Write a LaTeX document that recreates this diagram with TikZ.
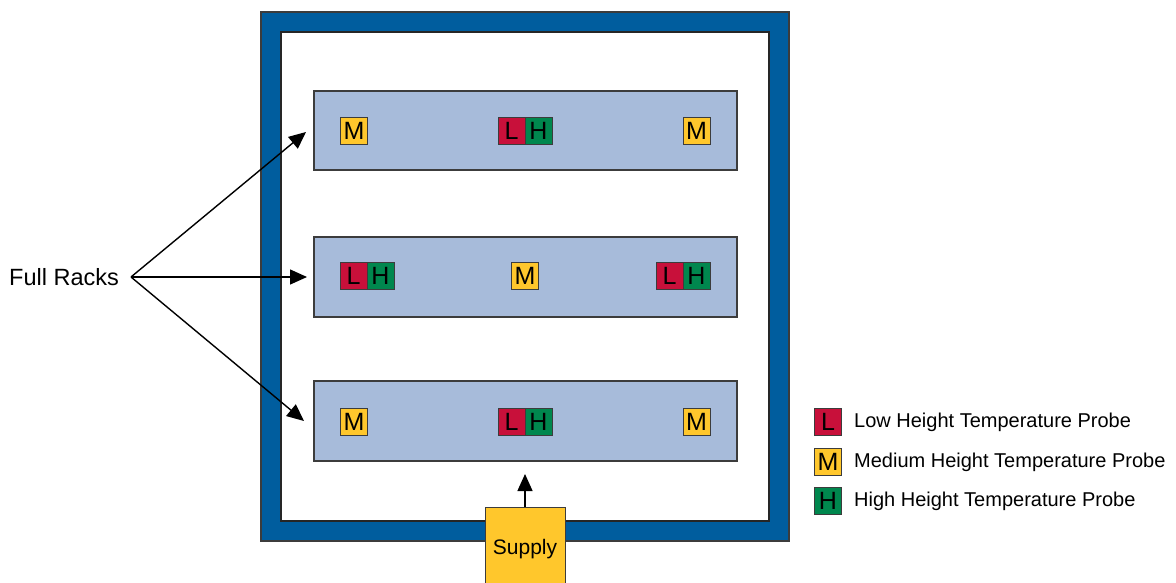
\documentclass[tikz,border=0pt]{standalone}
\usepackage{fontspec}
\setmainfont{Liberation Sans}
\usetikzlibrary{arrows.meta}
\definecolor{wallblue}{RGB}{0,93,158}
\definecolor{rackblue}{RGB}{167,187,218}
\definecolor{probered}{RGB}{200,16,58}
\definecolor{probeyel}{RGB}{255,199,44}
\definecolor{probegrn}{RGB}{0,135,78}
\definecolor{edgegray}{RGB}{60,60,60}
\tikzset{
  probe/.style={draw=edgegray, line width=1pt, minimum width=27pt, minimum height=27pt, inner sep=0pt,
    font=\fontsize{25}{25}\selectfont, text=black},
  pL/.style={probe, fill=probered},
  pM/.style={probe, fill=probeyel},
  pH/.style={probe, fill=probegrn},
  rack/.style={draw=edgegray, line width=1.2pt, fill=rackblue},
  arr/.style={line width=1.4pt, -{Triangle[length=17pt,width=15pt]}},
  legtext/.style={anchor=west, font=\fontsize{20}{20}\selectfont, inner sep=0pt},
}
\begin{document}
\begin{tikzpicture}[x=1pt,y=-1pt]
\useasboundingbox (0,0) rectangle (1176,583);
% walls
\path[fill=wallblue, draw=edgegray, line width=1.2pt] (261,12) rectangle (789,541);
\path[fill=white, draw=black!85, line width=1.5pt] (281,32) rectangle (769,521);
% racks
\path[rack] (314,91) rectangle (737,170);
\path[rack] (314,237) rectangle (737,317);
\path[rack] (314,381) rectangle (737,461);
% row 1
\node[pM] (m11) at (354,131) {M};
\node[pL] (l1) at (511.5,131) {L};
\node[pH] (h1) at (538.5,131) {H};
\node[pM] (m12) at (696.5,131) {M};
% row 2
\node[pL] (l21) at (353.5,276) {L};
\node[pH] (h21) at (380.5,276) {H};
\node[pM] (m2) at (525,276) {M};
\node[pL] (l22) at (669.5,276) {L};
\node[pH] (h22) at (696.5,276) {H};
% row 3
\node[pM] (m31) at (354,422) {M};
\node[pL] (l3) at (511.5,422) {L};
\node[pH] (h3) at (538.5,422) {H};
\node[pM] (m32) at (696.5,422) {M};
% supply
\path[fill=probeyel, draw=edgegray, line width=1pt] (485,586) -- (485,507) -- (565,507) -- (565,586);
\node[font=\fontsize{21}{21}\selectfont, inner sep=0pt] (supply) at (525,549) {Supply};
\coordinate (supTop) at (525,507);
\coordinate (supTip) at (525,474);
\draw[arr] (supTop) -- (supTip);
% full racks
\node[anchor=west, font=\fontsize{23.5}{23.5}\selectfont, inner sep=0pt] (fr) at (9,277) {Full Racks};
\coordinate (apex) at (131,277);
\coordinate (t1) at (306,132);
\coordinate (t2) at (307,277);
\coordinate (t3) at (304,421);
\draw[arr] (apex) -- (t1);
\draw[arr] (apex) -- (t2);
\draw[arr] (apex) -- (t3);
% legend
\node[pL] (kl) at (828,422) {L};
\node[pM] (km) at (828,462) {M};
\node[pH] (kh) at (828,501) {H};
\node[legtext] (tl) at (854,422) {Low Height Temperature Probe};
\node[legtext] (tm) at (854,462) {Medium Height Temperature Probe};
\node[legtext] (th) at (854,501) {High Height Temperature Probe};
\end{tikzpicture}
\end{document}
